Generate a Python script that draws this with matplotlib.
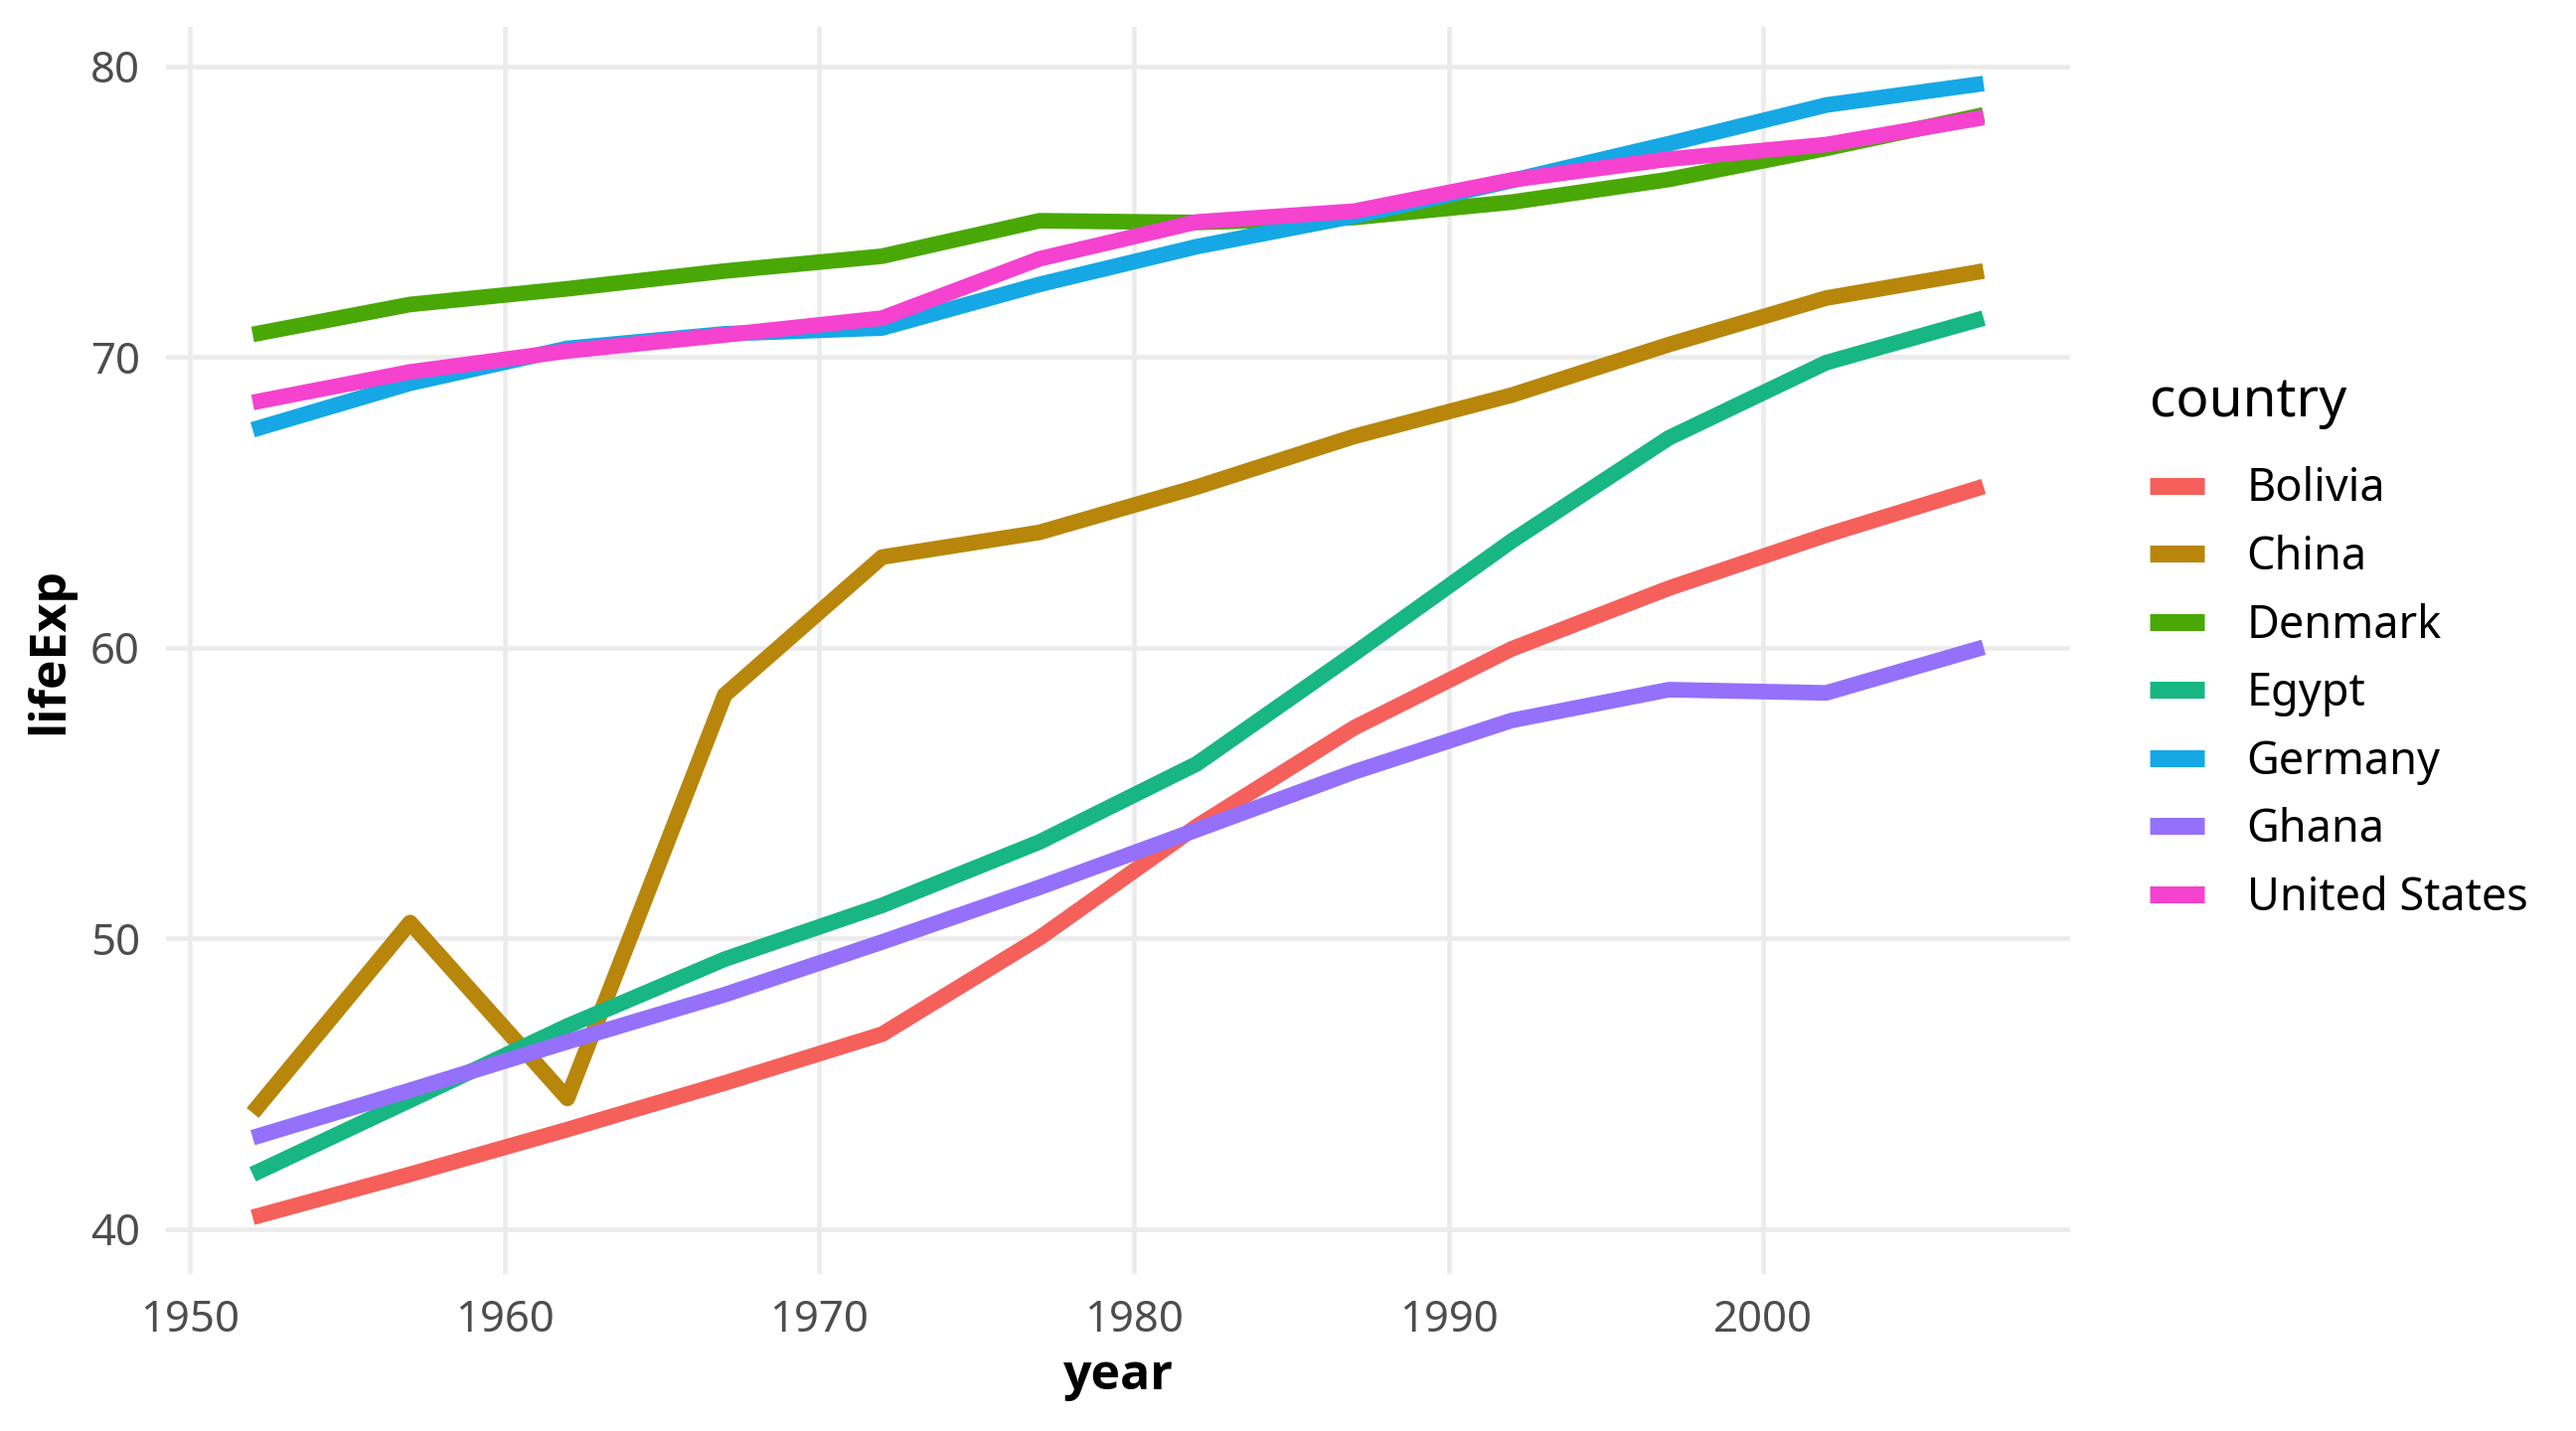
import matplotlib
matplotlib.use("Agg")
import matplotlib.pyplot as plt

# ─── Data (gapminder life expectancy) ──────────────────────────────────────────

years = [1952, 1957, 1962, 1967, 1972, 1977, 1982, 1987, 1992, 1997, 2002, 2007]

countries = ["Bolivia", "China", "Denmark", "Egypt", "Germany", "Ghana",
             "United States"]

bolivia = [40.41, 41.89, 43.43, 45.03, 46.71, 50.02, 53.86, 57.25, 59.96,
           62.05, 63.88, 65.55]
china = [44.00, 50.55, 44.50, 58.38, 63.12, 63.97, 65.53, 67.27, 68.69,
         70.43, 72.03, 72.96]
denmark = [70.78, 71.81, 72.35, 72.96, 73.47, 74.69, 74.63, 74.80, 75.33,
           76.11, 77.18, 78.33]
egypt = [41.89, 44.44, 46.99, 49.29, 51.14, 53.32, 56.01, 59.80, 63.67,
         67.22, 69.81, 71.34]
germany = [67.50, 69.10, 70.30, 70.80, 71.00, 72.50, 73.80, 74.85, 76.07,
           77.34, 78.67, 79.41]
ghana = [43.15, 44.78, 46.45, 48.07, 49.88, 51.76, 53.74, 55.73, 57.50,
         58.56, 58.45, 60.02]
usa = [68.44, 69.49, 70.21, 70.76, 71.34, 73.38, 74.65, 75.02, 76.09,
       76.81, 77.31, 78.24]

series = [bolivia, china, denmark, egypt, germany, ghana, usa]
colors = ["#F5605B", "#B8860B", "#49A805", "#17B683", "#15A8E5", "#9570FB",
          "#F542CF"]

xticks = [1950, 1960, 1970, 1980, 1990, 2000]
yticks = [40, 50, 60, 70, 80]

# ─── Figure ────────────────────────────────────────────────────────────────────

FONT = ["Noto Sans", "DejaVu Sans"]
BOLD = ["Open Sans", "Roboto", "DejaVu Sans"]
plt.rcParams["font.family"] = FONT

fig = plt.figure(figsize=(14.4, 8), dpi=180)
fig.patch.set_facecolor("white")
ax = fig.add_axes([0.0645, 0.1097, 0.8036 - 0.0645, 0.98125 - 0.1097])

for name, vals, col in zip(countries, series, colors):
    ax.plot(years, vals, color=col, lw=6.3, label=name,
            solid_capstyle="butt", solid_joinstyle="round")

# ggplot-style 5% expansion
xr = years[-1] - years[0]
ax.set_xlim(years[0] - 0.05 * xr, years[-1] + 0.05 * xr)
allv = [v for s in series for v in s]
yr = max(allv) - min(allv)
ax.set_ylim(min(allv) - 0.05 * yr, max(allv) + 0.05 * yr)

ax.set_xticks(xticks)
ax.set_yticks(yticks)
ax.tick_params(length=0, labelsize=17.5, labelcolor="#4D4D4D")
ax.tick_params(axis="x", pad=10)
ax.tick_params(axis="y", pad=10.5)
ax.grid(True, color="#EBEBEB", lw=1.8)
ax.set_axisbelow(True)
for s in ax.spines.values():
    s.set_visible(False)

ax.set_xlabel("year", fontsize=20, fontweight="bold", family=BOLD, va="center")
ax.set_ylabel("lifeExp", fontsize=20, fontweight="bold", family=BOLD,
              va="center")
ax.xaxis.set_label_coords(0.5, -0.082)
ax.yaxis.set_label_coords(-0.061, 0.5)

leg = ax.legend(loc="upper left", bbox_to_anchor=(2163 / 2592, 1 - 377 / 1440),
                bbox_transform=fig.transFigure, frameon=False,
                fontsize=18, title="country", title_fontsize=22,
                handlelength=1.22, handletextpad=0.95, labelspacing=0.5,
                borderpad=0, borderaxespad=0)
leg._legend_box.align = "left"
leg._legend_box.sep = 15
for h in leg.get_lines():
    h.set_linewidth(6.8)

fig.savefig("out.png", dpi=180, facecolor="white")
